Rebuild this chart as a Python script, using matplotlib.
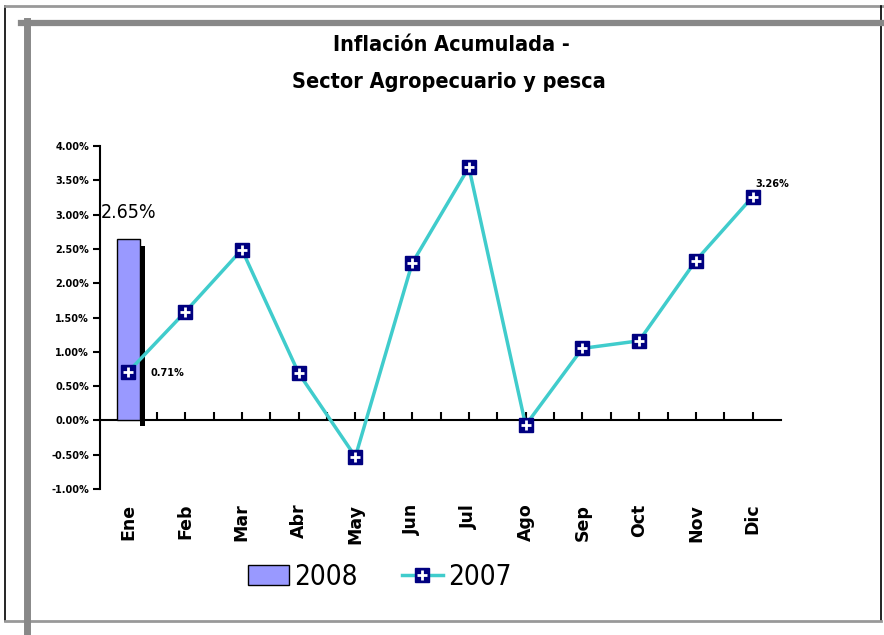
import matplotlib
matplotlib.use('Agg')
import matplotlib.pyplot as plt
from matplotlib import font_manager
from matplotlib.lines import Line2D
import numpy as np

# monthly cumulative inflation, agro & fishing sector (%)
months = ['Ene', 'Feb', 'Mar', 'Abr', 'May', 'Jun', 'Jul', 'Ago', 'Sep', 'Oct', 'Nov', 'Dic']
vals_2007 = [0.71, 1.58, 2.49, 0.69, -0.53, 2.29, 3.69, -0.07, 1.05, 1.16, 2.33, 3.26]
vals_2008 = [2.65]
yticks = [-1.0, -0.5, 0.0, 0.5, 1.0, 1.5, 2.0, 2.5, 3.0, 3.5, 4.0]


def find_font(names):
    # look for a narrow font file on the system, first match wins
    files = font_manager.findSystemFonts()
    for n in names:
        for f in files:
            if f.split('/')[-1] == n:
                return f
    return None


narrow_bold_file = find_font(['LiberationSansNarrow-Bold.ttf', 'DejaVuSansCondensed-Bold.ttf'])
narrow_file = find_font(['LiberationSansNarrow-Regular.ttf', 'DejaVuSansCondensed.ttf'])


def narrow_font(size, bold=False):
    f = narrow_bold_file if bold else narrow_file
    if f:
        return font_manager.FontProperties(fname=f, size=size)
    return font_manager.FontProperties(family='Liberation Sans', size=size * 0.85,
                                       weight='bold' if bold else 'normal')


fig = plt.figure(figsize=(8.84, 6.35), dpi=100)
ax = fig.add_axes([100 / 884, 1 - 489 / 635, 681 / 884, 343 / 635])

x = np.arange(len(months))

# 2008 bar with a black shadow on its right side
bw = 0.4
ax.bar(x[:len(vals_2008)] + bw / 2 + 0.05, [v - 0.03 for v in vals_2008], width=0.1,
       bottom=-0.08, color='black', zorder=2)
ax.bar(x[:len(vals_2008)], vals_2008, width=bw, color='#9999ff', edgecolor='black',
       linewidth=1, zorder=3)

# 2007 line
ln, = ax.plot(x, vals_2007, color='#40cccc', lw=2.5, marker='s', ms=10,
              mfc='#000080', mec='#000080', zorder=4)
pl, = ax.plot(x, vals_2007, ls='none', marker='+', ms=7, mew=2, color='white', zorder=5)

# data labels
ax.annotate(f'{vals_2008[0]:.2f}%', (0, vals_2008[0]), xytext=(0, 19), textcoords='offset points',
            ha='center', va='center', fontproperties=narrow_font(14))
ax.annotate(f'{vals_2007[0]:.2f}%', (0, vals_2007[0]), xytext=(16, -1), textcoords='offset points',
            ha='left', va='center', fontsize=7, fontweight='bold')
ax.annotate(f'{vals_2007[-1]:.2f}%', (11, vals_2007[-1]), xytext=(2, 9), textcoords='offset points',
            ha='left', va='center', fontsize=7, fontweight='bold')

ax.set_xlim(-0.5, 11.5)
ax.set_ylim(-1, 4)
ax.set_yticks(yticks)
ax.set_yticklabels([f'{t:.2f}%' for t in yticks], fontsize=7, fontweight='bold')

ax.spines['top'].set_visible(False)
ax.spines['right'].set_visible(False)
ax.spines['left'].set_linewidth(1.5)
ax.spines['bottom'].set_position(('data', 0))
ax.spines['bottom'].set_linewidth(1.5)

ax.set_xticks(x)
ax.set_xticks(np.arange(0.5, 11.5, 1), minor=True)
ax.set_xticklabels(months, rotation=90, fontsize=12.5, fontweight='bold', va='top')
ax.tick_params(axis='x', which='both', direction='in', length=6, width=1.5, pad=60)
ax.tick_params(axis='y', direction='out', length=5, width=1.5, pad=3)

# title
fig.text(451 / 884, 1 - 45 / 635, 'Inflación Acumulada -', ha='center', va='center',
         fontproperties=narrow_font(15.5, bold=True))
fig.text(449 / 884, 1 - 82 / 635, 'Sector Agropecuario y pesca', ha='center', va='center',
         fontproperties=narrow_font(15.5, bold=True))

# legend
fig.legend([ax.patches[1], (ln, pl)], ['2008', '2007'], loc='center',
           bbox_to_anchor=(380 / 884, 1 - 577 / 635), ncol=2, frameon=False,
           prop=narrow_font(20), handlelength=1.45, handleheight=0.72, handletextpad=0.2,
           columnspacing=1.6)

# chart frame
def fline(xs, ys, **kw):
    fig.add_artist(Line2D([v / 884 for v in xs], [1 - v / 635 for v in ys],
                          transform=fig.transFigure, **kw))

fline([5, 5], [6, 621], color='black', lw=1.2)
fline([5, 884], [6, 6], color='#999999', lw=2)
fline([881, 881], [6, 621], color='black', lw=1.2)
fline([5, 881], [621, 621], color='#999999', lw=2)
fline([21, 884], [23, 23], color='#888888', lw=4.5)
fline([27, 27], [21, 635], color='#888888', lw=5)

fig.savefig('out.png', dpi=100)
